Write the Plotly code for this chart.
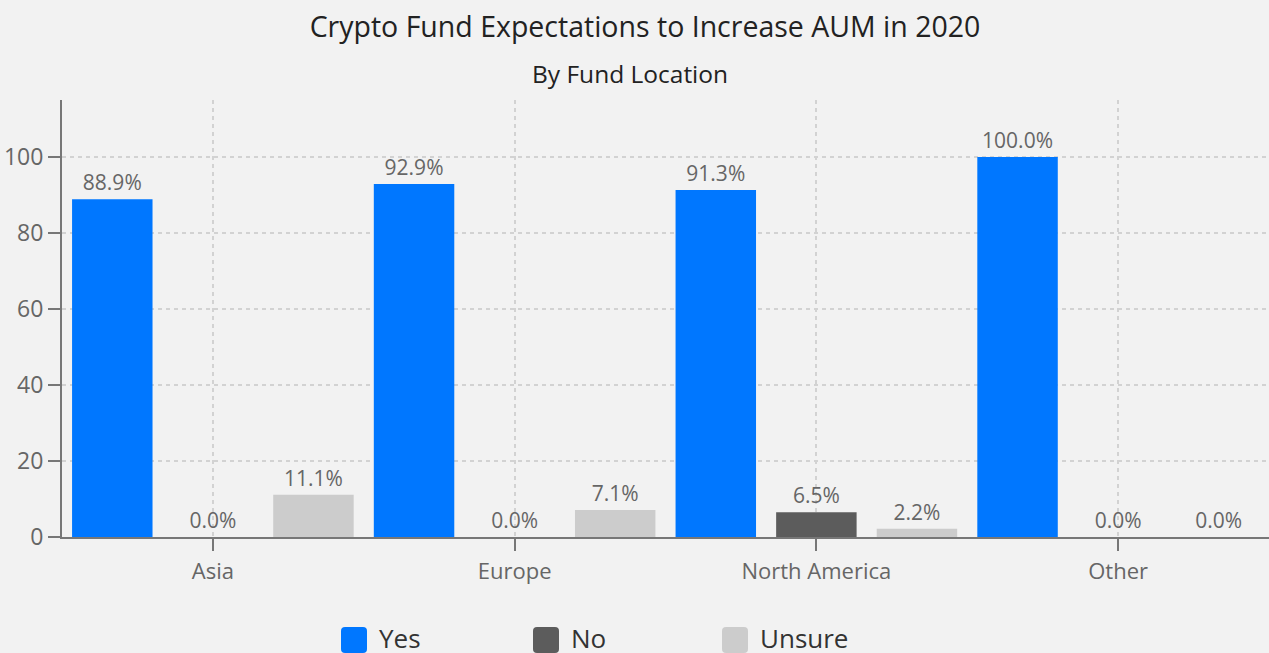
import plotly.graph_objects as go

categories = ["Asia", "Europe", "North America", "Other"]
yes_vals = [88.9, 92.9, 91.3, 100.0]
no_vals = [0.0, 0.0, 6.5, 0.0]
unsure_vals = [11.1, 7.1, 2.2, 0.0]

series_names = ["Yes", "No", "Unsure"]
series_values = [yes_vals, no_vals, unsure_vals]
series_colors = ["#0077ff", "#5c5c5c", "#cccccc"]

W, H = 1269, 653
ML, MR, MT, MB = 62, 0, 100, 116
PW, PH = W - ML - MR, H - MT - MB


def px_x(px):
    return (px - ML) / PW


def px_y(py):
    return (H - MB - py) / PH


fig = go.Figure()
for name, vals, color in zip(series_names, series_values, series_colors):
    fig.add_trace(go.Bar(
        name=name, x=categories, y=vals,
        marker=dict(color=color, line=dict(width=0)),
        texttemplate="%{y:.1f}%", textposition="outside",
        constraintext="none",
        textfont=dict(family="Open Sans", size=21, color="#666666"),
        cliponaxis=False, showlegend=False,
    ))

# custom legend (large rounded swatches)
legend_sym_x = [354, 546, 735]
legend_txt_x = [377, 569, 758]
legend_y = 640
r = 4
h = 13
rounded = (f"M{-h+r},{-h} L{h-r},{-h} Q{h},{-h} {h},{-h+r} L{h},{h-r} Q{h},{h} {h-r},{h} "
           f"L{-h+r},{h} Q{-h},{h} {-h},{h-r} L{-h},{-h+r} Q{-h},{-h} {-h+r},{-h} Z")
shapes = []
annotations = []
for name, color, sx, tx in zip(series_names, series_colors, legend_sym_x, legend_txt_x):
    shapes.append(dict(type="path", xref="paper", yref="paper",
                       xsizemode="pixel", ysizemode="pixel",
                       xanchor=px_x(sx), yanchor=px_y(legend_y),
                       path=rounded, fillcolor=color, line=dict(width=0)))
    annotations.append(dict(text=name, xref="paper", yref="paper",
                            x=px_x(tx), y=px_y(legend_y - 2),
                            xanchor="left", yanchor="middle", showarrow=False,
                            font=dict(family="Open Sans", size=26, color="#333333")))

annotations.append(dict(text="By Fund Location", xref="paper", yref="paper",
                        x=px_x(630), y=px_y(73),
                        xanchor="center", yanchor="middle", showarrow=False,
                        font=dict(family="Open Sans", size=24.5, color="#222222")))

fig.update_layout(
    width=W, height=H,
    paper_bgcolor="#f2f2f2", plot_bgcolor="#f2f2f2",
    font=dict(family="Open Sans", color="#666666"),
    margin=dict(l=ML, r=MR, t=MT, b=MB, autoexpand=False),
    barmode="group", bargap=0, bargroupgap=0.2,
    title=dict(text="Crypto Fund Expectations to Increase AUM in 2020",
               x=645 / W, xref="container", xanchor="center",
               y=1 - 27 / H, yref="container", yanchor="middle",
               font=dict(family="Open Sans", size=28.5, color="#222222")),
    annotations=annotations,
    shapes=shapes,
    showlegend=False,
)

fig.update_xaxes(
    showline=True, linecolor="#777777", linewidth=2,
    ticks="outside", ticklen=12, tickwidth=2, tickcolor="#777777",
    tickfont=dict(size=22, color="#666666"),
    ticklabelstandoff=2,
    showgrid=True, gridcolor="#d2d2d2", griddash="4px,4px", gridwidth=2,
)
fig.update_yaxes(
    range=[0, 115], dtick=20, tick0=0,
    showline=True, linecolor="#777777", linewidth=2,
    ticks="outside", ticklen=12, tickwidth=2, tickcolor="#777777",
    tickfont=dict(size=23, color="#666666"),
    showgrid=True, gridcolor="#d2d2d2", griddash="4px,4px", gridwidth=2,
    zeroline=False,
)

fig.write_html("out.html", config={"displayModeBar": False},
               post_script="document.body.style.margin='0';document.body.style.overflow='hidden';")
